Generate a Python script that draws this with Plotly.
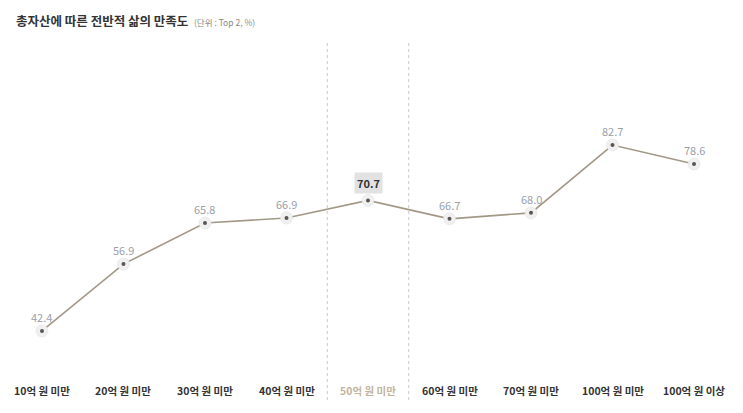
import plotly.graph_objects as go

# Données
categories = ["10억 원 미만", "20억 원 미만", "30억 원 미만", "40억 원 미만", "50억 원 미만",
              "60억 원 미만", "70억 원 미만", "100억 원 미만", "100억 원 이상"]
valeurs = [42.4, 56.9, 65.8, 66.9, 70.7, 66.7, 68.0, 82.7, 78.6]
idx_focus = 4  # catégorie mise en avant (50억 원 미만)

police = "Noto Sans CJK KR"
x = list(range(len(categories)))

# La page ajoute une marge de 8 px : la figure couvre donc 735 x 405
W, H = 735, 405

fig = go.Figure()

# Ligne
fig.add_trace(go.Scatter(
    x=x, y=valeurs, mode="lines",
    line=dict(color="#a39886", width=1.6),
    hoverinfo="skip", showlegend=False
))

# Halo des points
fig.add_trace(go.Scatter(
    x=x, y=valeurs, mode="markers",
    marker=dict(size=12, color="#f0f0f0", line=dict(width=0.6, color="#e2e2e2")),
    hoverinfo="skip", showlegend=False
))

# Points
fig.add_trace(go.Scatter(
    x=x, y=valeurs, mode="markers",
    marker=dict(size=4, color="#5a5550"),
    showlegend=False
))

# Étiquettes de valeurs
for i, v in enumerate(valeurs):
    if i == idx_focus:
        fig.add_annotation(
            x=i, y=v, text=f"<b>{v:.1f}</b>", showarrow=False, yshift=17,
            font=dict(family=police, size=11, color="#333333"),
            bgcolor="#e2e2e2", borderpad=2
        )
    else:
        fig.add_annotation(
            x=i, y=v, text=f"{v:.1f}", showarrow=False, yshift=14,
            font=dict(family=police, size=11, color="#9ba0a8")
        )

# Lignes verticales pointillées autour de la catégorie mise en avant
for xv in (idx_focus - 0.5, idx_focus + 0.5):
    fig.add_shape(type="line", x0=xv, x1=xv, xref="x", y0=0.032, y1=0.916, yref="paper",
                  line=dict(color="#c8c8c8", width=1, dash="dot"))

# Libellés des catégories
for i, cat in enumerate(categories):
    fig.add_annotation(
        x=i, y=0.033, xref="x", yref="paper", text=f"<b>{cat}</b>", showarrow=False,
        font=dict(family=police, size=10.5, color="#c2b49e" if i == idx_focus else "#333333")
    )

# Titre
fig.add_annotation(
    x=6 / W, y=1 - 12 / H, xref="paper", yref="paper", xanchor="left", yanchor="middle",
    text="<b>총자산에 따른 전반적 삶의 만족도</b>  <span style='font-size:8.5px;color:#888888'>(단위 : Top 2, %)</span>",
    showarrow=False, font=dict(family=police, size=12.5, color="#333333")
)

fig.update_layout(
    width=W, height=H,
    margin=dict(l=0, r=0, t=0, b=0),
    paper_bgcolor="white", plot_bgcolor="white",
    xaxis=dict(range=[-0.417, 8.601], visible=False),
    yaxis=dict(range=[24.63, 112.39], visible=False),
    hovermode="closest"
)

fig.write_html("out.html")
